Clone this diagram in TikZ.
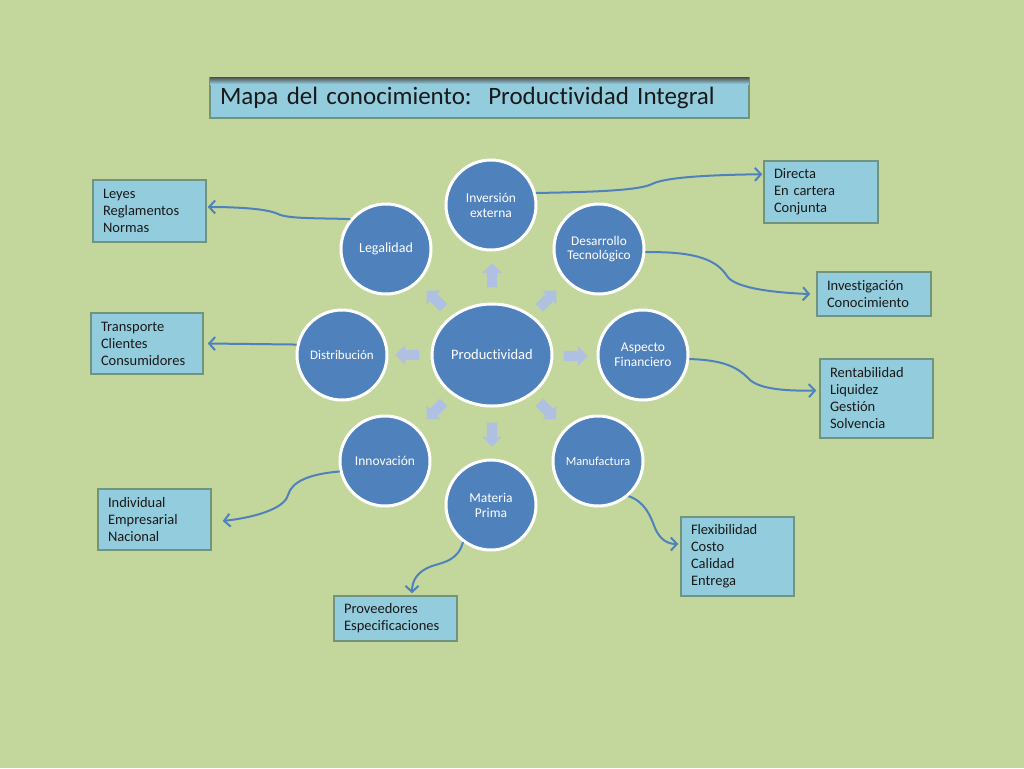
\documentclass[tikz,border=0pt]{standalone}
\usepackage{fontspec}
\setmainfont{Carlito}[Ligatures={NoCommon}]
\usetikzlibrary{arrows.meta,shapes.arrows,shapes.geometric,calc}
\definecolor{bgc}{RGB}{195,214,155}
\definecolor{circc}{RGB}{79,129,189}
\definecolor{boxfill}{RGB}{147,205,221}
\definecolor{boxline}{RGB}{112,148,126}
\definecolor{connc}{RGB}{79,129,189}
\definecolor{smallc}{RGB}{176,192,226}
\definecolor{txt}{RGB}{25,25,25}
\begin{document}
\begin{tikzpicture}[x=1pt,y=-1pt,
 bubble/.style={circle, fill=circc, draw=white, line width=3pt, minimum size=90pt, inner sep=0pt, text=white, font=\fontsize{13.5}{15}\selectfont, align=center},
 infobox/.style={rectangle, fill=boxfill, draw=boxline, line width=1.5pt, align=left, font=\fontsize{14.5}{17}\selectfont, inner xsep=10pt, inner ysep=0pt, text=txt},
 titlebox/.style={rectangle, fill=boxfill, draw=boxline, line width=1.5pt, align=left, font=\fontsize{25}{28}\selectfont, inner xsep=10pt, inner ysep=0pt, text=txt},
 link/.style={draw=connc, line width=2pt, -{Straight Barb[length=6pt,width=13pt]}},
 sarrow/.style={single arrow, fill=smallc, minimum height=24pt, inner xsep=0pt, inner ysep=5pt, single arrow head extend=4.5pt, draw=none}]
\useasboundingbox (0,0) rectangle (1024,768);
\fill[bgc] (0,0) rectangle (1024,768);

% title
\node[titlebox, minimum height=40pt, text width=519pt] (title) at (479.5,98) {Mapa del conocimiento:\ \ Productividad Integral};
\shade[top color=black!70, bottom color=boxfill] (210,77) rectangle (749,84);

% center and bubbles
\node[ellipse, fill=circc, draw=white, line width=3pt, minimum width=120pt, minimum height=102pt, inner sep=0pt, text=white, font=\fontsize{14.5}{16}\selectfont] (prod) at (492,355) {Productividad};
\node[bubble] (inv) at (491,205) {Inversión\\externa};
\node[bubble, font=\fontsize{13.3}{14}\selectfont] (des) at (599,249) {Desarrollo\\Tecnológico};
\node[bubble] (asp) at (643,355) {Aspecto\\Financiero};
\node[bubble, font=\fontsize{12.3}{14}\selectfont] (man) at (598,461) {Manufactura};
\node[bubble] (mat) at (491,505) {Materia\\Prima};
\node[bubble] (inn) at (385,461) {Innovación};
\node[bubble, font=\fontsize{13}{14}\selectfont] (dis) at (342,355) {Distribución};
\node[bubble, font=\fontsize{14}{15}\selectfont] (leg) at (386,249) {Legalidad};

% small arrows
\node[sarrow, rotate=90] (a1) at (492,278) {};
\node[sarrow, rotate=270] (a2) at (492,432) {};
\node[sarrow, rotate=0] (a3) at (573,356) {};
\node[sarrow, rotate=180] (a4) at (410,355) {};
\node[sarrow, rotate=45] (a5) at (546,301) {};
\node[sarrow, rotate=135] (a6) at (437,301) {};
\node[sarrow, rotate=315] (a7) at (546,409) {};
\node[sarrow, rotate=225] (a8) at (437,409) {};

% info boxes
\node[infobox, minimum height=62pt, text width=94pt] (dir) at (821,192) {Directa\\En cartera\\Conjunta};
\node[infobox, minimum height=44pt, text width=94pt] (invb) at (874,294) {Investigación\\Conocimiento};
\node[infobox, minimum height=79pt, text width=93pt] (ren) at (876.5,398.5) {Rentabilidad\\Liquidez\\Gestión\\Solvencia};
\node[infobox, minimum height=79pt, text width=93pt] (flex) at (737.5,556.5) {Flexibilidad\\Costo\\Calidad\\Entrega};
\node[infobox, minimum height=45pt, text width=103pt] (prov) at (395.5,618.5) {Proveedores\\Especificaciones};
\node[infobox, minimum height=61pt, text width=93pt] (indiv) at (154.5,519.5) {Individual\\Empresarial\\Nacional};
\node[infobox, minimum height=61pt, text width=92pt] (trans) at (147,343.5) {Transporte\\Clientes\\Consumidores};
\node[infobox, minimum height=62pt, text width=93pt] (leyes) at (149.5,211) {Leyes\\Reglamentos\\Normas};

% connectors
\draw[link] (inv.15) .. controls (600,192) and (640,190) .. (652,184) .. controls (664,178) and (700,175) .. ($(dir.north west)+(-1,14)$);
\draw[link] (des.-4) .. controls (700,251) and (718,262) .. (727,276) .. controls (735,289) and (780,293) .. ($(invb.west)+(-6,0)$);
\draw[link] (asp.-5) .. controls (725,360) and (738,368) .. (748,378) .. controls (758,390) and (790,391) .. ($(ren.west)+(-3,-8)$);
\draw[link] (man.-49) .. controls (645,502) and (650,515) .. (655,528) .. controls (660,540) and (668,544) .. ($(flex.west)+(-2,-12.5)$);
\draw[link] (mat.-127) .. controls (458,560) and (445,562) .. (432,566) .. controls (418,571) and (412,580) .. ($(prov.north)+(16.5,-2)$);
\draw[link] (inn.-167) .. controls (310,474) and (292,481) .. (288,495) .. controls (284,510) and (250,518) .. ($(indiv.east)+(11,1.5)$);
\draw[link] (dis.167) -- ($(trans.east)+(4,0)$);
\draw[link] (leg.140) .. controls (320,218) and (288,219) .. (278,214) .. controls (266,208) and (230,207) .. ($(leyes.east)+(1,-4)$);
\end{tikzpicture}
\end{document}
